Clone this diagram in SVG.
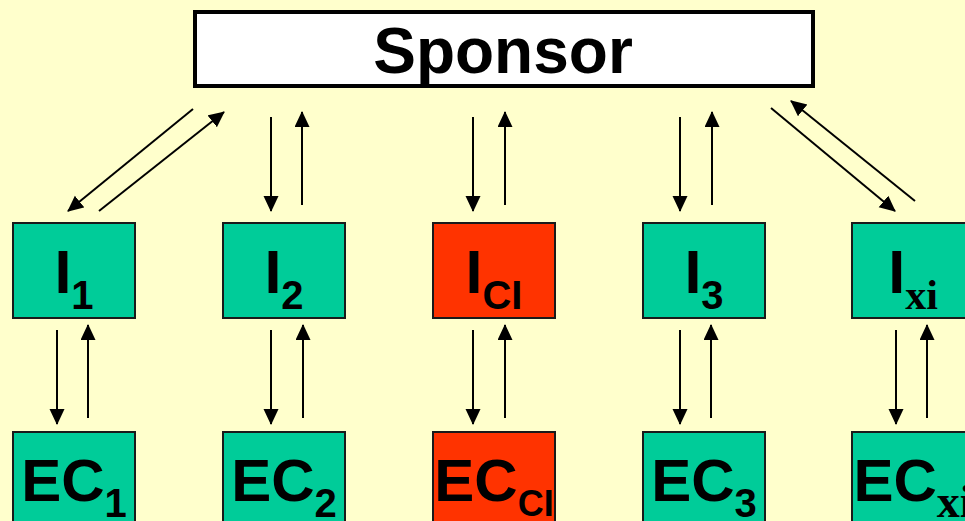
<svg xmlns="http://www.w3.org/2000/svg" width="965" height="521" viewBox="0 0 965 521">
  <defs>
    <marker id="ah" markerUnits="userSpaceOnUse" markerWidth="16" markerHeight="16" refX="15" refY="7.5" orient="auto">
      <path d="M0,0 L16,7.5 L0,15 Z" fill="#000"/>
    </marker>
    <style>
      .bg { fill: #FFFFCC; }
      .teal { fill: #00CC99; stroke: #1a1a1a; stroke-width: 2; }
      .red { fill: #FF3300; stroke: #1a1a1a; stroke-width: 2; }
      .lbl { font-family: "Liberation Sans", Arial, sans-serif; font-weight: bold; fill: #000; text-anchor: middle; }
      .top { font-size: 61px; }
      .bot { font-size: 60px; }
      .sub1 { font-size: 40px; }
      .sub2 { font-size: 40px; }
      .subci { font-size: 36px; }
      .serif { font-family: "Liberation Serif", "Times New Roman", serif; }
      .conn line { stroke: #000; stroke-width: 2; marker-end: url(#ah); }
    </style>
  </defs>
  <rect class="bg" x="0" y="0" width="965" height="521"/>

  <g id="sponsor">
    <rect x="195" y="12" width="618" height="74" fill="#fff" stroke="#000" stroke-width="4"/>
    <text class="lbl" x="503" y="73" font-size="64">Sponsor</text>
  </g>

  <g id="I1">
    <rect class="teal" x="13" y="223" width="122" height="95"/>
    <text class="lbl top" x="74" y="293">I<tspan class="sub1" dy="16">1</tspan></text>
  </g>
  <g id="I2">
    <rect class="teal" x="223" y="223" width="122" height="95"/>
    <text class="lbl top" x="284" y="293">I<tspan class="sub1" dy="16">2</tspan></text>
  </g>
  <g id="ICI">
    <rect class="red" x="433" y="223" width="122" height="95"/>
    <text class="lbl top" x="494" y="293">I<tspan class="sub1" dy="16">CI</tspan></text>
  </g>
  <g id="I3">
    <rect class="teal" x="643" y="223" width="122" height="95"/>
    <text class="lbl top" x="704" y="293">I<tspan class="sub1" dy="16">3</tspan></text>
  </g>
  <g id="Ixi">
    <rect class="teal" x="852" y="223" width="122" height="95"/>
    <text class="lbl top" x="913" y="293">I<tspan class="serif" font-size="42" dy="16">xi</tspan></text>
  </g>

  <g id="EC1">
    <rect class="teal" x="13" y="432" width="122" height="100"/>
    <text class="lbl bot" x="74" y="501">EC<tspan class="sub2" dy="16">1</tspan></text>
  </g>
  <g id="EC2">
    <rect class="teal" x="223" y="432" width="122" height="100"/>
    <text class="lbl bot" x="284" y="501">EC<tspan class="sub2" dy="16">2</tspan></text>
  </g>
  <g id="ECCI">
    <rect class="red" x="433" y="432" width="122" height="100"/>
    <text class="lbl bot" x="494" y="501">EC<tspan class="subci" dy="15">CI</tspan></text>
  </g>
  <g id="EC3">
    <rect class="teal" x="643" y="432" width="122" height="100"/>
    <text class="lbl bot" x="704" y="501">EC<tspan class="sub2" dy="16">3</tspan></text>
  </g>
  <g id="ECxi">
    <rect class="teal" x="852" y="432" width="122" height="100"/>
    <text class="lbl bot" x="913" y="501">EC<tspan class="serif" font-size="46" dy="16">xi</tspan></text>
  </g>

  <g id="connectors" class="conn">
    <line x1="193" y1="109" x2="68" y2="211"/>
    <line x1="99" y1="211" x2="224" y2="112"/>
    <line x1="271" y1="117" x2="271" y2="211"/>
    <line x1="302" y1="205" x2="302" y2="112"/>
    <line x1="473" y1="117" x2="473" y2="211"/>
    <line x1="505" y1="205" x2="505" y2="112"/>
    <line x1="680" y1="117" x2="680" y2="211"/>
    <line x1="712" y1="205" x2="712" y2="112"/>
    <line x1="771" y1="108" x2="895" y2="211"/>
    <line x1="915" y1="201" x2="791" y2="101"/>

    <line x1="57" y1="330" x2="57" y2="424"/>
    <line x1="88" y1="418" x2="88" y2="325"/>
    <line x1="271" y1="330" x2="271" y2="424"/>
    <line x1="303" y1="418" x2="303" y2="325"/>
    <line x1="473" y1="330" x2="473" y2="424"/>
    <line x1="505" y1="418" x2="505" y2="325"/>
    <line x1="680" y1="330" x2="680" y2="424"/>
    <line x1="711" y1="418" x2="711" y2="325"/>
    <line x1="896" y1="330" x2="896" y2="424"/>
    <line x1="927" y1="418" x2="927" y2="325"/>
  </g>
</svg>
